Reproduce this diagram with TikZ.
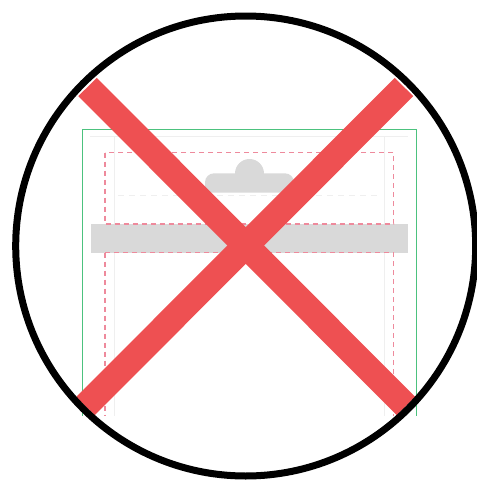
\documentclass[tikz,border=0pt]{standalone}
\usepackage{xcolor}
\definecolor{crossred}{HTML}{EE5052}
\definecolor{framegreen}{HTML}{4CC27E}
\definecolor{guidepink}{HTML}{EE8A9C}
\definecolor{blockgray}{HTML}{D9D9D9}
\definecolor{faintgray}{HTML}{EFEFEF}

\begin{document}
\begin{tikzpicture}[
    x=1pt, y=-1pt,
    frame/.style={draw=framegreen, line width=1pt},
    guide/.style={draw=guidepink, line width=1.2pt, dash pattern=on 5pt off 4pt},
    faint/.style={draw=faintgray, line width=1pt},
    block/.style={fill=blockgray},
    cross/.style={draw=crossred, line width=26pt},
    ring/.style={draw=black, line width=7pt}
]
\useasboundingbox (0,0) rectangle (477,483);
\coordinate (tl) at (87.5,87);
\coordinate (tr) at (404,87);
\coordinate (bl) at (85.5,406);
\coordinate (br) at (406,406);
\coordinate (hub) at (245.7,246);

\begin{scope}
\clip (0,0) rectangle (477,415);
% faint guides
\draw[faint] (90,136) -- (408,136);
\draw[faint] (114,136) -- (114,430);
\draw[faint] (384,136) -- (384,430);
\draw[faint, dash pattern=on 6pt off 5pt] (118,195) -- (380,195);
% frame
\draw[frame] (82.5,129.5) rectangle (416,430);
% tab
\fill[block] (205,192.5) [rounded corners=9pt] -- (205,173.3) -- (294,173.3) [sharp corners] -- (294,192.5) -- cycle;
\fill[block] (249.5,173.5) circle[radius=14.5pt];
% bar and dashed boxes
\fill[block] (91,224) rectangle (408,252.5);
\draw[guide] (105,152.5) rectangle (393.5,224);
\draw[guide] (105,252.5) rectangle (393.5,430);
% cross
\begin{scope}
\clip (hub) circle[radius=230pt];
\draw[cross] (tl) -- (br);
\draw[cross] (tr) -- (bl);
\end{scope}
\end{scope}

\draw[ring] (hub) circle[radius=230pt];
\end{tikzpicture}
\end{document}
